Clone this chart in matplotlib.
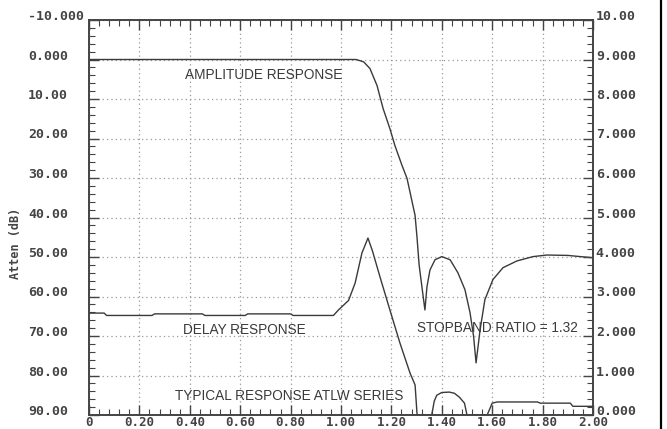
import numpy as np
import matplotlib
matplotlib.use('Agg')
import matplotlib.pyplot as plt
from matplotlib.ticker import MultipleLocator
from matplotlib.lines import Line2D

# Amplitude response (attenuation, dB) vs normalized frequency
amp_freq = [0, 1.06, 1.09, 1.115, 1.143, 1.167, 1.194, 1.214, 1.242, 1.262, 1.294,
            1.302, 1.31, 1.322, 1.333, 1.341, 1.353, 1.373, 1.40, 1.433, 1.464,
            1.492, 1.512, 1.526, 1.536, 1.552, 1.571, 1.603, 1.643, 1.698, 1.762,
            1.817, 1.90, 2.0]
amp_db = [0, 0, 0.6, 2.3, 6.6, 12.4, 17.5, 21.8, 26.8, 30.1, 39.5,
          45.3, 52.0, 58.0, 63.4, 57.6, 53.3, 50.7, 49.9, 50.7, 54.0,
          58.3, 64.1, 70.0, 76.8, 68.4, 60.8, 55.7, 52.7, 51.0, 49.9,
          49.5, 49.6, 50.2]

# Delay response (right axis)
delay_freq = [0, 0.06, 0.07, 0.25, 0.26, 0.45, 0.46, 0.62, 0.63, 0.80, 0.81, 0.97,
              0.99, 1.03, 1.056, 1.083, 1.107, 1.125, 1.155, 1.194, 1.234, 1.274,
              1.294, 1.302, 1.36, 1.37, 1.38, 1.40, 1.43, 1.45, 1.47, 1.49, 1.50,
              1.58, 1.60, 1.62, 1.78, 1.79, 1.91, 1.92, 2.0]
delay_val = [2.58, 2.58, 2.52, 2.52, 2.56, 2.56, 2.52, 2.52, 2.56, 2.56, 2.52, 2.52,
             2.66, 2.9, 3.34, 4.1, 4.48, 4.15, 3.49, 2.66, 1.82, 1.06,
             0.76, 0.0, 0.0, 0.35, 0.5, 0.57, 0.58, 0.55, 0.45, 0.3, 0.0,
             0.0, 0.3, 0.33, 0.33, 0.30, 0.30, 0.22, 0.22]

x_ticks = [0, 0.2, 0.4, 0.6, 0.8, 1.0, 1.2, 1.4, 1.6, 1.8, 2.0]
x_labels = ['0', '0.20', '0.40', '0.60', '0.80', '1.00', '1.20', '1.40', '1.60', '1.80', '2.00']
left_ticks = [-10, 0, 10, 20, 30, 40, 50, 60, 70, 80, 90]
left_labels = ['-10.000', '0.000', '10.00', '20.00', '30.00', '40.00', '50.00',
               '60.00', '70.00', '80.00', '90.00']
right_ticks = [0, 1, 2, 3, 4, 5, 6, 7, 8, 9, 10]
right_labels = ['0.000', '1.000', '2.000', '3.000', '4.000', '5.000', '6.000',
                '7.000', '8.000', '9.000', '10.00']

W, H = 667, 429
fig = plt.figure(figsize=(W / 100, H / 100), dpi=100)
fig.patch.set_facecolor('white')
ax = fig.add_axes([89 / W, 1 - 415 / H, (593 - 89) / W, (415 - 20) / H])
ax2 = ax.twinx()

tick_font = dict(family='DejaVu Sans Mono', weight='bold', size=9.5, color='#333333')
xtick_font = dict(family='DejaVu Sans Mono', weight='bold', size=9, color='#333333')
line_col = '#3a3a3a'

ax.set_xlim(0, 2.0)
ax.set_ylim(90, -10)
ax2.set_ylim(0, 10)

ax.plot(amp_freq, amp_db, color=line_col, lw=1.0)
ax2.plot(delay_freq, delay_val, color=line_col, lw=1.0)

ax.set_xticks(x_ticks)
ax.set_xticklabels(x_labels, **xtick_font)
ax.set_yticks(left_ticks)
ax.set_yticklabels(left_labels, **tick_font)
for lbl in ax.get_yticklabels():
    lbl.set_ha('left')
    lbl.set_va('baseline')
ax2.set_yticks(right_ticks)
ax2.set_yticklabels(right_labels, **tick_font)
for lbl in ax2.get_yticklabels():
    lbl.set_va('baseline')

ax.xaxis.set_minor_locator(MultipleLocator(0.04))
ax.yaxis.set_minor_locator(MultipleLocator(2))
ax2.yaxis.set_minor_locator(MultipleLocator(0.2))

ax.tick_params(axis='x', which='both', direction='in', top=True, bottom=True,
               pad=0.5, colors='#444444')
ax.tick_params(axis='y', which='both', direction='in', left=True, right=False,
               pad=(89 - 28) * 0.72, colors='#444444')
ax2.tick_params(axis='y', which='both', direction='in', right=True, left=False,
                pad=2, colors='#444444')
for a in (ax, ax2):
    a.tick_params(which='major', length=7, width=1.0)
    a.tick_params(which='minor', length=4, width=0.8)
    for sp in a.spines.values():
        sp.set_color('#444444')
        sp.set_linewidth(1.2)

ax.grid(True, which='major', linestyle=(0, (1, 2.5)), color='#999999', linewidth=0.9)

txt = dict(family='Liberation Sans', size=9.8, color='#3a3a3a', va='center', ha='left')
ax.text(0.381, 4.05, 'AMPLITUDE RESPONSE', **txt)
ax.text(0.373, 68.6, 'DELAY RESPONSE', **txt)
ax.text(1.302, 68.1, 'STOPBAND RATIO = 1.32', **txt)
ax.text(0.341, 85.1, 'TYPICAL RESPONSE ATLW SERIES', **txt)

fig.text(16 / W, 1 - 243 / H, 'Atten (dB)', rotation=90, ha='center', va='center',
         family='DejaVu Sans Mono', weight='bold', size=8.5, color='#444444')

# black frame line at right edge of the image
fig.add_artist(Line2D([661 / W, 661 / W], [0, 1], transform=fig.transFigure,
                      color='black', lw=1.6))

fig.savefig('out.png', dpi=100)
